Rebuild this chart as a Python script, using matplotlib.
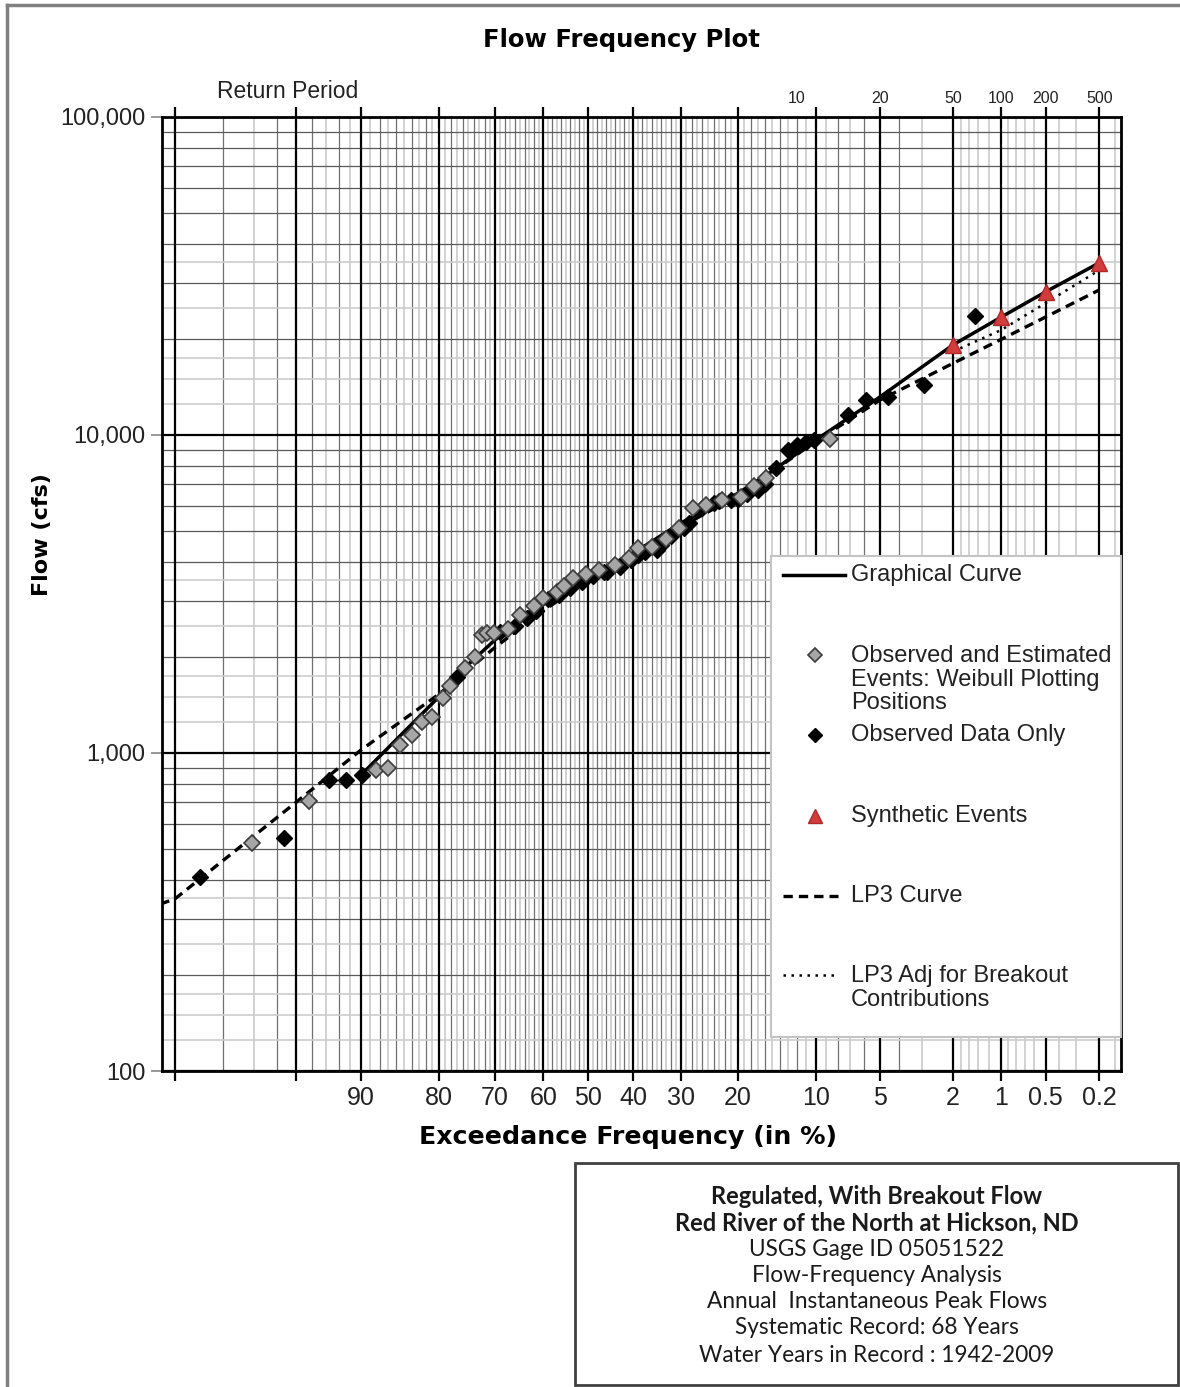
import numpy as np
import matplotlib
matplotlib.use('Agg')
import matplotlib.pyplot as plt
from matplotlib.patches import Rectangle
from matplotlib.lines import Line2D
from statistics import NormalDist

plt.rcParams['font.family'] = ['Liberation Sans', 'DejaVu Sans']

W, H = 1180, 1387

# Datos (frecuencia de excedencia en %, caudal en cfs)
weibull_pct = [97.1, 94.2, 88.4, 87.0, 85.5, 84.0, 82.5, 81.0, 79.4, 78.2, 75.6, 73.9,
               72.6, 71.5, 70.2, 67.5, 64.9, 62.0, 60.0, 57.0, 55.5, 53.4, 50.5, 47.5,
               44.0, 41.0, 38.9, 36.0, 33.0, 30.5, 27.7, 25.3, 22.5, 19.5, 17.5, 15.9, 8.7]
weibull_flow = [521, 706, 885, 900, 1060, 1140, 1250, 1300, 1490, 1625, 1850, 2000,
                2350, 2380, 2390, 2450, 2720, 2900, 3070, 3200, 3350, 3550, 3650, 3750,
                3900, 4100, 4420, 4450, 4700, 5100, 5890, 6020, 6250, 6400, 6900, 7330, 9700]

observed_pct = [98.56, 95.65, 92.8, 91.4, 89.9, 77.0, 69.0, 66.0, 63.5, 61.5, 59.0, 56.5,
                54.0, 51.5, 49.0, 46.5, 45.7, 43.0, 40.5, 39.0, 37.5, 35.0, 34.0, 32.0,
                29.5, 28.5, 26.0, 24.0, 23.0, 21.0, 20.0, 18.5, 17.0, 16.0, 14.5, 13.0,
                12.0, 11.0, 10.2, 7.2, 5.9, 4.56, 2.93, 1.47]
observed_flow = [407, 541, 822, 822, 853, 1734, 2400, 2500, 2650, 2800, 3050, 3150,
                 3300, 3450, 3600, 3700, 3700, 3850, 4050, 4200, 4300, 4350, 4500, 4800,
                 5100, 5300, 5900, 6100, 6200, 6250, 6300, 6500, 6700, 7000, 7900, 9000,
                 9300, 9500, 9650, 11600, 12900, 13150, 14400, 23650]

synthetic_pct = [2, 1, 0.5, 0.2]
synthetic_flow = [19200, 23500, 28200, 34800]

graphical_pct = [90, 80, 75, 70, 60, 50, 40, 30, 20, 15, 10, 5, 2, 1, 0.5, 0.2]
graphical_flow = [850, 1500, 1900, 2270, 2930, 3600, 4250, 5300, 6550, 7700, 9650,
                  13200, 19200, 23500, 28200, 34800]

lp3_pct = [99.2, 99, 95, 90, 80, 70, 60, 50, 40, 30, 20, 10, 5, 2, 1, 0.5, 0.2]
lp3_flow = [335, 348, 700, 1020, 1530, 2150, 2800, 3500, 4200, 5150, 6450, 9550,
            12900, 16800, 20000, 23500, 28600]

lp3_adj_pct = [2, 1, 0.5, 0.2]
lp3_adj_flow = [18300, 21400, 26000, 33000]

# Ejes y etiquetas
major_pct = [99, 95, 90, 80, 70, 60, 50, 40, 30, 20, 10, 5, 2, 1, 0.5, 0.2]
pct_labels = ['', '', '90', '80', '70', '60', '50', '40', '30', '20', '10', '5', '2', '1', '0.5', '0.2']
minor_pct = [p for p in range(3, 99) if p not in major_pct] + [1.8, 1.6, 1.4, 1.2, 0.9, 0.8, 0.7, 0.6, 0.4, 0.3, 0.15]
return_periods = ['10', '20', '50', '100', '200', '500']
return_pct = [10, 5, 2, 1, 0.5, 0.2]
flow_ticks = [100, 1000, 10000, 100000]
flow_labels = ['100', '1,000', '10,000', '100,000']

nd = NormalDist()


def z_of(pct):
    # escala de probabilidad normal: frecuencia de excedencia -> z
    return np.array([nd.inv_cdf(1 - p / 100.0) for p in np.atleast_1d(pct)])


fig = plt.figure(figsize=(W / 100, H / 100), dpi=100)
left, right, top, bottom = 162, 1121, 117, 1071
ax = fig.add_axes([left / W, (H - bottom) / H, (right - left) / W, (bottom - top) / H])
ax.set_yscale('log')
ax.set_xlim(-2.4, 3.0)
ax.set_ylim(100, 100000)

# Cuadricula
for p in minor_pct:
    even = (p * 10) % 20 == 0
    ax.axvline(z_of(p)[0], color='#707070' if even else '#d2d2d2',
               lw=0.9 if even else 1.4, zorder=0)
for p in major_pct:
    ax.axvline(z_of(p)[0], color='black', lw=1.6, zorder=0.5)
for dec in [100, 1000, 10000]:
    for m in [1.25, 1.5, 1.75, 2.5, 3.5]:
        ax.axhline(dec * m, color='#cdcdcd', lw=1.2, zorder=0)
    for m in range(2, 10):
        ax.axhline(dec * m, color='#5a5a5a', lw=0.9, zorder=0.2)
for dec in flow_ticks:
    ax.axhline(dec, color='black', lw=1.6, zorder=0.5)

# Curvas y puntos
ax.plot(z_of(lp3_pct), lp3_flow, color='black', lw=2.4, ls=(0, (2.8, 1.8)), zorder=3)
ax.plot(z_of(lp3_adj_pct), lp3_adj_flow, color='black', lw=1.8, ls=(0, (1, 2.2)), zorder=3)
ax.plot(z_of(graphical_pct), graphical_flow, color='black', lw=2.5, zorder=3)
ax.plot(z_of(observed_pct), observed_flow, ls='none', marker='D', ms=8.5,
        mfc='black', mec='black', mew=1, zorder=4)
ax.plot(z_of(weibull_pct), weibull_flow, ls='none', marker='D', ms=8.5,
        mfc='#a6a6a6', mec='#3c3c3c', mew=1.2, zorder=5)
ax.plot(z_of(synthetic_pct), synthetic_flow, ls='none', marker='^', ms=11,
        mfc='#d23c3c', mec='#b02828', mew=1, zorder=6)

# Ticks
ax.set_xticks(z_of(major_pct))
ax.set_xticklabels(pct_labels, fontsize=18, color='#222222',
                   family=['Liberation Sans Narrow', 'Liberation Sans'])
ax.tick_params(axis='x', which='both', direction='out', length=7, width=1.6,
               top=True, bottom=True, labeltop=False, pad=4)
ax.set_yticks(flow_ticks)
ax.set_yticklabels(flow_labels, fontsize=17, color='#222222')
ax.yaxis.set_minor_locator(matplotlib.ticker.NullLocator())
ax.tick_params(axis='y', direction='out', length=8, width=1.2, color='#888888', pad=4)
for s in ax.spines.values():
    s.set_linewidth(2)

# Periodo de retorno (eje superior)
for lab, p in zip(return_periods, return_pct):
    dx = -0.11 if lab == '10' else 0.0
    ax.text(z_of(p)[0] + dx, 1.012, lab, transform=ax.get_xaxis_transform(),
            ha='center', va='bottom', fontsize=11.5, color='#222222')

# Capa de anotaciones en pixeles
ov = fig.add_axes([0, 0, 1, 1])
ov.set_xlim(0, W)
ov.set_ylim(H, 0)
ov.axis('off')
ov.patch.set_alpha(0)

ov.plot([7, 7], [5, H], color='#808080', lw=2.5)
ov.plot([7, W], [5, 5], color='#808080', lw=2.5)
bold_family = ['DejaVu Sans', 'Liberation Sans']
ov.text(621, 40, 'Flow Frequency Plot', ha='center', va='center', fontsize=17.5,
        fontweight='bold', family=bold_family)
ov.text(288, 92, 'Return Period', ha='center', va='center', fontsize=16.5, color='#222222')
ov.text(628, 1137, 'Exceedance Frequency (in %)', ha='center', va='center', fontsize=18.2,
        fontweight='bold', family=bold_family)
ov.text(42, 535, 'Flow (cfs)', ha='center', va='center', rotation=90, fontsize=16,
        fontweight='bold', family=bold_family)

# Leyenda
ov.add_patch(Rectangle((771, 556), 350, 481, facecolor='white', edgecolor='#c4c4c4', lw=1.5, zorder=2))
lx, tx, fs = 815, 851, 17
ov.add_line(Line2D([783, 845], [575, 575], color='black', lw=2.5, zorder=3))
ov.text(tx, 575, 'Graphical Curve', va='center', fontsize=fs, color='#222222', zorder=3)
ov.plot([lx], [655], marker='D', ms=7, mfc='#a6a6a6', mec='#3c3c3c', mew=1.2, zorder=3)
ov.text(tx, 645, 'Observed and Estimated\nEvents: Weibull Plotting\nPositions', va='top',
        fontsize=fs, color='#222222', linespacing=1.1, zorder=3)
ov.plot([lx], [735], marker='D', ms=7, mfc='black', mec='black', zorder=3)
ov.text(tx, 735, 'Observed Data Only', va='center', fontsize=fs, color='#222222', zorder=3)
ov.plot([lx], [816], marker='^', ms=10, mfc='#d23c3c', mec='#b02828', zorder=3)
ov.text(tx, 816, 'Synthetic Events', va='center', fontsize=fs, color='#222222', zorder=3)
ov.add_line(Line2D([783, 838], [896, 896], color='black', lw=2.4, ls=(0, (2.8, 1.8)), zorder=3))
ov.text(tx, 896, 'LP3 Curve', va='center', fontsize=fs, color='#222222', zorder=3)
ov.add_line(Line2D([783, 838], [975, 975], color='black', lw=1.8, ls=(0, (1, 2.2)), zorder=3))
ov.text(tx, 965, 'LP3 Adj for Breakout\nContributions', va='top', fontsize=fs,
        color='#222222', linespacing=1.1, zorder=3)

# Cuadro de informacion
ov.add_patch(Rectangle((575, 1163), 603, 222, facecolor='white', edgecolor='#404040', lw=2, zorder=2))
info_lines = ['Regulated, With Breakout Flow', 'Red River of the North at Hickson, ND',
              'USGS Gage ID 05051522', 'Flow-Frequency Analysis',
              'Annual  Instantaneous Peak Flows', 'Systematic Record: 68 Years',
              'Water Years in Record : 1942-2009']
info_y = [1196, 1223, 1250, 1276, 1301, 1328, 1355]
for i, (t, y) in enumerate(zip(info_lines, info_y)):
    ov.text(877, y, t, ha='center', va='center', fontsize=17 if i < 2 else 16.3,
            fontweight='bold' if i < 2 else 'normal', family=['Lato', 'DejaVu Sans'],
            color='#1a1a1a', zorder=3)

fig.savefig('out.png', dpi=100)
